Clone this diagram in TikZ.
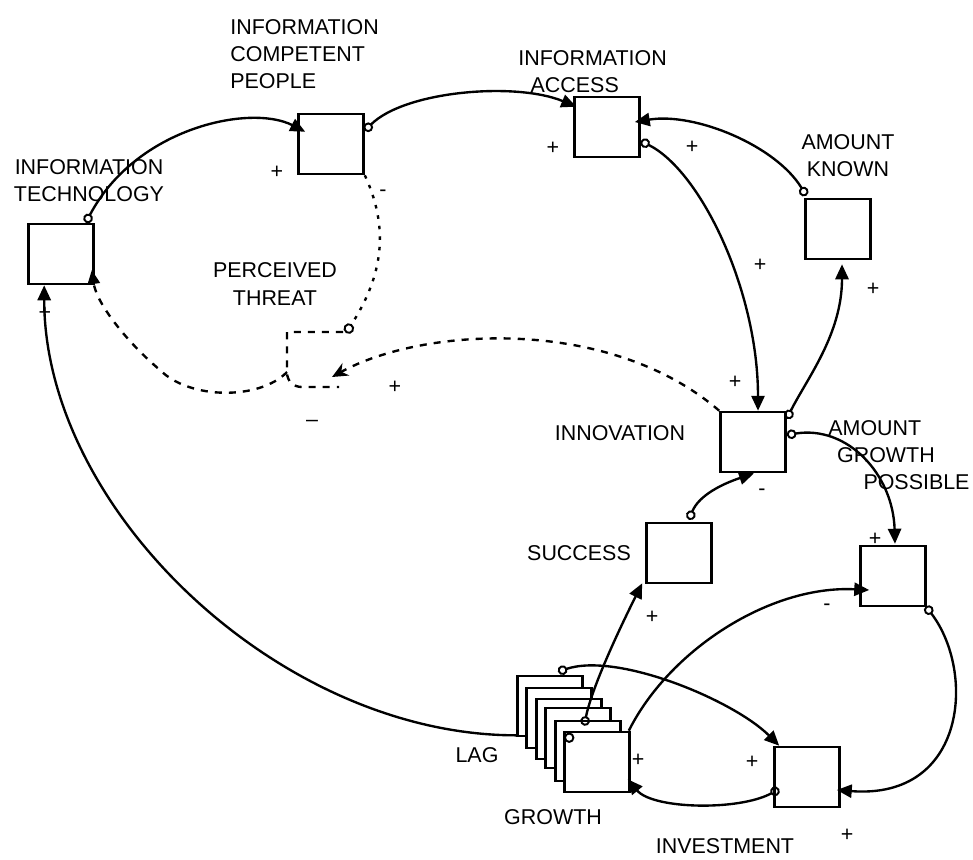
\documentclass[tikz,border=0pt]{standalone}
\usepackage{fontspec}
\setmainfont{Liberation Sans}
\usetikzlibrary{arrows.meta, positioning, calc}

\begin{document}
\begin{tikzpicture}[
    x=0.02cm, y=-0.02cm,
    font=\fontsize{12.2}{15.5}\selectfont,
    stock/.style={rectangle, draw, fill=white, line width=1.5pt, minimum width=1.3cm, minimum height=1.2cm, inner sep=0pt},
    link/.style={{Circle[open, length=5.5pt, line width=1.1pt]}-{Triangle[length=8.5pt, width=7.5pt]}, line width=1.35pt},
    push/.style={-{Triangle[length=8.5pt, width=7.5pt]}, line width=1.35pt},
    threat/.style={line width=1.35pt, dash pattern=on 4pt off 4pt},
    sign/.style={inner sep=0pt},
    lbl/.style={inner sep=0pt, align=center}
]
    \useasboundingbox (0,0) rectangle (973,859);

    % Stocks
    \node[stock] (it) at (61,254) {};
    \node[stock] (icp) at (331,144) {};
    \node[stock] (ia) at (607,127) {};
    \node[stock] (ak) at (838,229) {};
    \node[stock] (inn) at (753,442) {};
    \node[stock] (agp) at (893,576) {};
    \node[stock] (suc) at (679,553) {};
    \node[stock] (inv) at (807,777) {};

    % Lag stack
    \foreach \n/\x/\y in {1/518/675, 2/527/687, 3/537/698, 4/546/707, 5/556/720}
        \node[stock] (lag\n) at (\x+32,\y+31) {};
    \node[stock] (growth) at (597,762) {};
    \draw[line width=1.1pt] ($(growth.north west)+(6,7)$) circle (2.4pt);

    % Labels
    \node[lbl] (itl) at (89,181) {INFORMATION\\TECHNOLOGY};
    \node[lbl, align=left, anchor=west] (icpl) at (230,54) {INFORMATION\\COMPETENT\\PEOPLE};
    \node[lbl, align=left, anchor=west] (ial) at (518,72) {INFORMATION\\\hspace*{7pt}ACCESS};
    \node[lbl] (akl) at (848,156) {AMOUNT\\KNOWN};
    \node[lbl] (ptl) at (275,284) {PERCEIVED\\THREAT};
    \node[lbl] (innl) at (620,433) {INNOVATION};
    \node[lbl, align=left, anchor=west] (agpl) at (828,455) {AMOUNT\\\hspace*{5pt}GROWTH\\\hspace*{20pt}POSSIBLE};
    \node[lbl, left=0.28cm of suc] (sucl) {SUCCESS};
    \node[lbl] (lagl) at (477,755) {LAG};
    \node[lbl] (growthl) at (553,817) {GROWTH};
    \node[lbl] (invl) at (725,846) {INVESTMENT};

    % Solid links
    \draw[link] ($(it.north east)+(-9,0)$) .. controls +(50,-95) and +(-55,-28) .. ($(icp.north west)+(8,19)$);
    \draw[link] ($(icp.north east)+(0,18)$) .. controls +(40,-40) and +(-60,-25) .. ($(ia.north west)+(3,11)$);
    \draw[link] ($(ak.north west)+(2,-2)$) .. controls +(-30,-50) and +(60,-10) .. ($(ia.east)+(-6,-5)$);
    \draw[link] ($(ia.east)+(0,14)$) .. controls +(60,30) and +(0,-120) .. ($(inn.north)+(5,0)$);
    \draw[link] ($(inn.north east)+(0,8)$) .. controls +(20,-40) and +(0,70) .. ($(ak.south)+(4,4)$);
    \draw[link] ($(inn.east)+(0,-7)$) .. controls +(60,-10) and +(-2,-70) .. ($(agp.north)+(2,-1)$);
    \draw[link] ($(suc.north)+(10,-2)$) .. controls +(10,-25) and +(-30,10) .. ($(inn.south)+(1,0)$);
    \draw[link] ($(growth.north west)+(21,-5)$) .. controls +(8,-40) and +(-20,40) .. ($(suc.south west)+(-3,-1)$);
    \draw[push] ($(growth.north east)+(-2,0)$) .. controls +(40,-80) and +(-100,-5) .. ($(agp.west)+(10,14)$);
    \draw[link] ($(agp.south east)+(-1,-1)$) .. controls +(50,65) and +(130,10) .. ($(inv.east)+(-4,13)$);
    \draw[link] ($(lag1.north)+(8,-3)$) .. controls +(60,-20) and +(-45,-45) .. ($(inv.north west)+(6,0)$);
    \draw[link] ($(inv.west)+(6,12)$) .. controls +(-40,22) and +(25,30) .. ($(growth.south east)+(-3,-14)$);
    \draw[push] ($(lag1.south west)+(0,-2)$) .. controls +(-236,0) and +(0,225) .. ($(it.south west)+(17,0)$);

    % Perceived threat
    \coordinate (pt) at (287,372);
    \draw[threat, dash pattern=on 2pt off 4pt, -{Circle[open, length=6pt, line width=1.1pt]}] (icp.south east) .. controls +(28,60) and +(32,-50) .. ($(pt)+(59,-39)$);
    \draw[threat] ($(pt)+(56,-40)$) -- ($(pt)+(0,-40)$) -- (pt) .. controls +(0,10) and +(-8,0) .. ($(pt)+(15,15)$) -- ($(pt)+(52,15)$);
    \draw[threat, -{Stealth[length=9pt, width=8pt]}] (inn.north west) .. controls +(-110,-95) and +(90,-50) .. ($(pt)+(45,5)$);
    \draw[threat, -{Triangle[length=8pt, width=7pt]}] (pt) .. controls +(-27,28) and +(30,30) .. (160,370) .. controls +(-30,-25) and +(5,35) .. ($(it.east)+(-3,16)$);

    % Signs
    \node[sign] at (277,172) {+};
    \node[sign] at (383,193) {-};
    \node[sign] at (553,148) {+};
    \node[sign] at (692,147) {+};
    \node[sign] at (760,265) {+};
    \node[sign] at (873,289) {+};
    \node[sign] at (735,382) {+};
    \node[sign] at (395,387) {+};
    \node[sign] at (312,423) {--};
    \node[sign] at (45,313) {+};
    \node[sign] at (762,492) {-};
    \node[sign] at (875,539) {+};
    \node[sign] at (652,617) {+};
    \node[sign] at (827,607) {-};
    \node[sign] at (638,760) {+};
    \node[sign] at (752,762) {+};
    \node[sign] at (847,835) {+};
\end{tikzpicture}
\end{document}
